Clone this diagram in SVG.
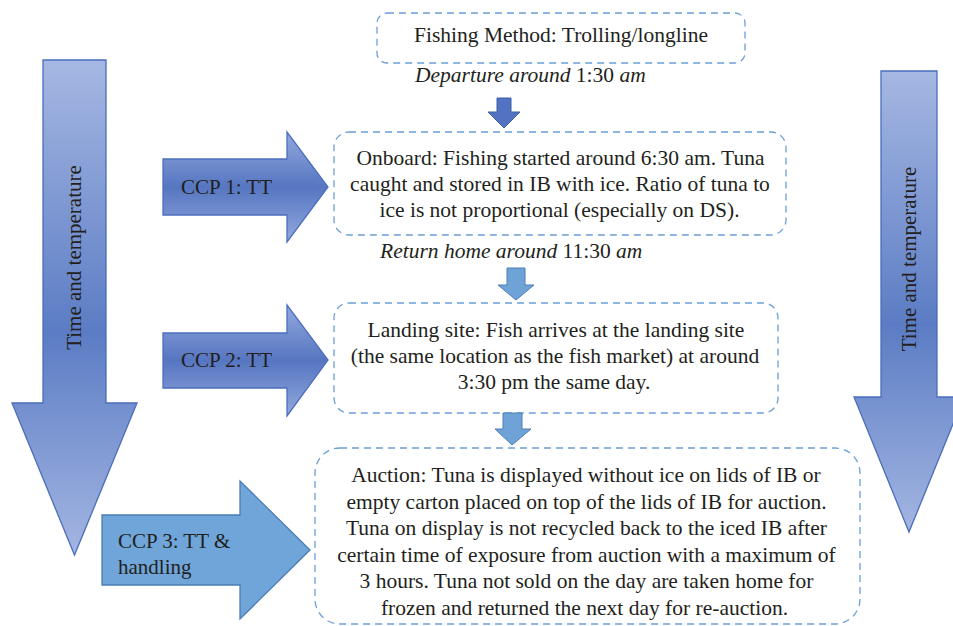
<svg xmlns="http://www.w3.org/2000/svg" width="953" height="626" viewBox="0 0 953 626">
<defs>
<linearGradient id="gBig" x1="0" y1="0" x2="0" y2="1">
<stop offset="0" stop-color="#a6b8e3"/>
<stop offset="0.55" stop-color="#5b7cc4"/>
<stop offset="1" stop-color="#a4b6e2"/>
</linearGradient>
<linearGradient id="gCcp" x1="0" y1="0" x2="0" y2="1">
<stop offset="0" stop-color="#93a9de"/>
<stop offset="0.5" stop-color="#5676c1"/>
<stop offset="1" stop-color="#93a9de"/>
</linearGradient>
<style>
.box{fill:#ffffff;stroke:#6b9fd8;stroke-width:1.3;stroke-dasharray:7 5}
text{font-family:'Liberation Serif','DejaVu Serif',serif;font-size:21.5px;fill:#231f20}
.c{text-anchor:middle}
.i{font-style:italic}
.lab{font-size:21px}
.big{fill:url(#gBig);stroke:#4a6dbc;stroke-width:1.3}
.ccp{fill:url(#gCcp);stroke:#4c6fbd;stroke-width:1.3}
.ccp3{fill:#6fa5d8;stroke:#4b7cb5;stroke-width:1.3}
.sa1{fill:#5273c2;stroke:#3f5fa8;stroke-width:1}
.sa2{fill:#6fa2d6;stroke:#4a7eb8;stroke-width:1}
</style>
</defs>

<g id="time-left">
<polygon class="big" points="43,60 106,60 106,403 137,403 74.5,555 12,403 43,403"/>
<text class="c lab" transform="translate(81,257.5) rotate(-90)">Time and temperature</text>
</g>
<g id="time-right">
<polygon class="big" points="881,71 937,71 937,397 964,397 909,532 854,397 881,397"/>
<text class="c lab" transform="translate(916,259) rotate(-90)">Time and temperature</text>
</g>

<g id="ccp1">
<polygon class="ccp" points="163,159 287,159 287,132 328,187 287,242 287,215 163,215"/>
<text class="lab" x="181" y="194">CCP 1: TT</text>
</g>
<g id="ccp2">
<polygon class="ccp" points="163,333 287,333 287,305 328,360 287,416 287,388 163,388"/>
<text class="lab" x="181" y="367">CCP 2: TT</text>
</g>
<g id="ccp3">
<polygon class="ccp3" points="102,515 240,515 240,481 310,550 240,619 240,585 102,585"/>
<text class="lab" x="118" y="548">CCP 3: TT &amp;</text>
<text class="lab" x="118" y="574">handling</text>
</g>

<g id="fishing-method">
<rect class="box" x="377" y="13" width="368" height="50" rx="10"/>
<text class="c" x="561" y="42">Fishing Method: Trolling/longline</text>
</g>

<g id="onboard">
<rect class="box" x="334" y="132" width="452" height="103" rx="15"/>
<text class="c" x="560.5" y="165">Onboard: Fishing started around 6:30 am. Tuna</text>
<text class="c" x="560" y="191">caught and stored in IB with ice. Ratio of tuna to</text>
<text class="c" x="559.5" y="217">ice is not proportional (especially on DS).</text>
</g>

<g id="landing">
<rect class="box" x="334" y="303" width="444" height="110" rx="15"/>
<text class="c" x="556" y="337">Landing site: Fish arrives at the landing site</text>
<text class="c" x="555" y="363">(the same location as the fish market) at around</text>
<text class="c" x="554" y="389">3:30 pm the same day.</text>
</g>

<g id="auction">
<rect class="box" x="315" y="448" width="545" height="176" rx="25"/>
<text class="c" x="586" y="482">Auction: Tuna is displayed without ice on lids of IB or</text>
<text class="c" x="586.5" y="508.5">empty carton placed on top of the lids of IB for auction.</text>
<text class="c" x="586.5" y="535">Tuna on display is not recycled back to the iced IB after</text>
<text class="c" x="586.5" y="561.5">certain time of exposure from auction with a maximum of</text>
<text class="c" x="586.5" y="588">3 hours. Tuna not sold on the day are taken home for</text>
<text class="c" x="584.5" y="614.5">frozen and returned the next day for re-auction.</text>
</g>

<g id="connectors">
<polygon class="sa1" points="497,98 511,98 511,112 520,112 504,128 488,112 497,112"/>
<text x="415" y="82"><tspan class="i">Departure around</tspan> 1:30 <tspan class="i">am</tspan></text>
<polygon class="sa2" points="507,268 525,268 525,285 534,285 516,300 498,285 507,285"/>
<text x="380" y="258"><tspan class="i">Return home around</tspan> 11:30 <tspan class="i">am</tspan></text>
<polygon class="sa2" points="503,413 522,413 522,429 531,429 512,445 495,429 503,429"/>
</g>
</svg>
